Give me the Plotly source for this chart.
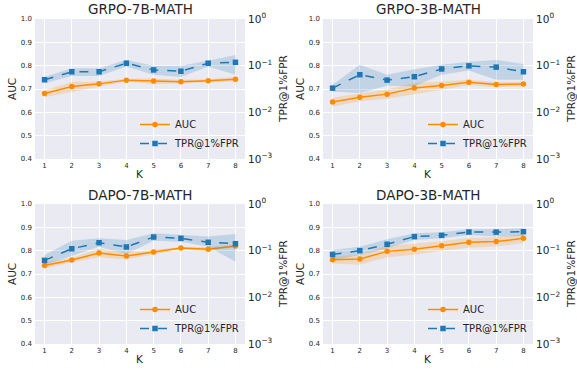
import plotly.graph_objects as go
from plotly.subplots import make_subplots

W, H = 577, 372

K = [1, 2, 3, 4, 5, 6, 7, 8]
titles = ["GRPO-7B-MATH", "GRPO-3B-MATH", "DAPO-7B-MATH", "DAPO-3B-MATH"]

# GRPO-7B-MATH
grpo7b_auc = [0.681, 0.711, 0.722, 0.738, 0.734, 0.731, 0.735, 0.742]
grpo7b_auc_lo = [0.665, 0.690, 0.710, 0.732, 0.720, 0.721, 0.728, 0.732]
grpo7b_auc_hi = [0.695, 0.730, 0.732, 0.744, 0.745, 0.740, 0.742, 0.752]
grpo7b_tpr = [0.050, 0.074, 0.074, 0.113, 0.081, 0.076, 0.113, 0.118]
grpo7b_tpr_lo = [0.042, 0.060, 0.060, 0.096, 0.064, 0.057, 0.096, 0.064]
grpo7b_tpr_hi = [0.057, 0.088, 0.088, 0.133, 0.099, 0.099, 0.128, 0.170]

# GRPO-3B-MATH
grpo3b_auc = [0.644, 0.665, 0.678, 0.704, 0.715, 0.729, 0.719, 0.721]
grpo3b_auc_lo = [0.624, 0.648, 0.658, 0.680, 0.697, 0.716, 0.708, 0.712]
grpo3b_auc_hi = [0.662, 0.682, 0.698, 0.726, 0.732, 0.740, 0.730, 0.730]
grpo3b_tpr = [0.033, 0.064, 0.049, 0.058, 0.085, 0.099, 0.093, 0.074]
grpo3b_tpr_lo = [0.028, 0.026, 0.037, 0.036, 0.064, 0.079, 0.050, 0.050]
grpo3b_tpr_hi = [0.039, 0.104, 0.064, 0.084, 0.104, 0.122, 0.133, 0.109]

# DAPO-7B-MATH
dapo7b_auc = [0.736, 0.760, 0.790, 0.777, 0.794, 0.811, 0.806, 0.820]
dapo7b_auc_lo = [0.722, 0.750, 0.772, 0.762, 0.784, 0.806, 0.796, 0.815]
dapo7b_auc_hi = [0.750, 0.770, 0.808, 0.792, 0.804, 0.816, 0.816, 0.825]
dapo7b_tpr = [0.062, 0.110, 0.148, 0.120, 0.196, 0.184, 0.151, 0.141]
dapo7b_tpr_lo = [0.049, 0.077, 0.122, 0.085, 0.164, 0.156, 0.122, 0.058]
dapo7b_tpr_hi = [0.081, 0.164, 0.184, 0.169, 0.235, 0.217, 0.200, 0.228]

# DAPO-3B-MATH
dapo3b_auc = [0.761, 0.764, 0.797, 0.806, 0.821, 0.836, 0.839, 0.853]
dapo3b_auc_lo = [0.745, 0.740, 0.772, 0.782, 0.800, 0.812, 0.818, 0.833]
dapo3b_auc_hi = [0.775, 0.782, 0.820, 0.830, 0.840, 0.855, 0.858, 0.870]
dapo3b_tpr = [0.083, 0.100, 0.137, 0.200, 0.213, 0.251, 0.250, 0.255]
dapo3b_tpr_lo = [0.063, 0.081, 0.112, 0.169, 0.184, 0.217, 0.200, 0.206]
dapo3b_tpr_hi = [0.103, 0.122, 0.175, 0.235, 0.247, 0.286, 0.286, 0.301]

auc_ticks = [0.4, 0.5, 0.6, 0.7, 0.8, 0.9, 1.0]
tpr_ticks = [0.001, 0.01, 0.1, 1]
tpr_ticktext = ["10<sup>\u22123</sup>", "10<sup>\u22122</sup>", "10<sup>\u22121</sup>", "10<sup>0</sup>"]

panels = [
    (grpo7b_auc, grpo7b_auc_lo, grpo7b_auc_hi, grpo7b_tpr, grpo7b_tpr_lo, grpo7b_tpr_hi),
    (grpo3b_auc, grpo3b_auc_lo, grpo3b_auc_hi, grpo3b_tpr, grpo3b_tpr_lo, grpo3b_tpr_hi),
    (dapo7b_auc, dapo7b_auc_lo, dapo7b_auc_hi, dapo7b_tpr, dapo7b_tpr_lo, dapo7b_tpr_hi),
    (dapo3b_auc, dapo3b_auc_lo, dapo3b_auc_hi, dapo3b_tpr, dapo3b_tpr_lo, dapo3b_tpr_hi),
]

ORANGE = "#ff8c00"
BLUE = "#1f77b4"
ORANGE_F = "rgba(255,140,0,0.2)"
BLUE_F = "rgba(31,119,180,0.2)"
FONT = "DejaVu Sans"
TXT = "#262626"

plot_x = [(35, 245), (323, 533)]
plot_y = [(19, 159), (204, 344)]

fig = make_subplots(rows=2, cols=2,
                    specs=[[{"secondary_y": True}, {"secondary_y": True}],
                           [{"secondary_y": True}, {"secondary_y": True}]])

legend_names = ["legend", "legend2", "legend3", "legend4"]
annotations = []
layout_legends = {}

for i, (auc, alo, ahi, tpr, tlo, thi) in enumerate(panels):
    r, c = i // 2 + 1, i % 2 + 1
    lg = legend_names[i]
    x0, x1 = plot_x[c - 1]
    y0, y1 = plot_y[r - 1]
    # bands
    fig.add_trace(go.Scatter(x=K + K[::-1], y=ahi + alo[::-1], fill="toself",
                             fillcolor=ORANGE_F, line=dict(width=0), mode="lines",
                             hoverinfo="skip", showlegend=False, legend=lg),
                  row=r, col=c, secondary_y=False)
    fig.add_trace(go.Scatter(x=K, y=auc, mode="lines+markers", name="AUC",
                             line=dict(color=ORANGE, width=1.5),
                             marker=dict(symbol="circle", size=5.5, color=ORANGE),
                             legend=lg),
                  row=r, col=c, secondary_y=False)
    fig.add_trace(go.Scatter(x=K + K[::-1], y=thi + tlo[::-1], fill="toself",
                             fillcolor=BLUE_F, line=dict(width=0), mode="lines",
                             hoverinfo="skip", showlegend=False, legend=lg),
                  row=r, col=c, secondary_y=True)
    fig.add_trace(go.Scatter(x=K, y=tpr, mode="lines+markers", name="TPR@1%FPR",
                             line=dict(color=BLUE, width=1.5, dash="dash"),
                             marker=dict(symbol="square", size=5.5, color=BLUE),
                             legend=lg),
                  row=r, col=c, secondary_y=True)

    ydom = [1 - y1 / H, 1 - y0 / H]
    fig.update_xaxes(domain=[x0 / W, x1 / W], range=[0.65, 8.35], tickvals=K,
                     showgrid=True, gridcolor="white", gridwidth=1, zeroline=False,
                     showline=False, ticks="", tickfont=dict(size=7, color=TXT, family=FONT),
                     ticklabelstandoff=1, automargin=False, row=r, col=c)
    fig.update_yaxes(domain=ydom, range=[0.4, 1.0], tickvals=auc_ticks,
                     tickformat=".1f", showgrid=True, gridcolor="white", gridwidth=1,
                     zeroline=False, showline=False, ticks="", automargin=False,
                     tickfont=dict(size=7, color=TXT, family=FONT), ticklabelstandoff=2,
                     row=r, col=c, secondary_y=False)
    fig.update_yaxes(domain=ydom, type="log", range=[-3, 0], tickvals=tpr_ticks,
                     ticktext=tpr_ticktext, automargin=False,
                     showgrid=False, zeroline=False, showline=False, ticks="",
                     tickfont=dict(size=10.5, color=TXT, family=FONT), ticklabelstandoff=2,
                     row=r, col=c, secondary_y=True)

    cx = (x0 + x1) / 2
    cy = (y0 + y1) / 2
    annotations += [
        dict(text=titles[i], x=cx / W, y=1 - (y0 - 9.5) / H, xref="paper", yref="paper",
             showarrow=False, font=dict(size=13.5, color=TXT, family=FONT),
             xanchor="center", yanchor="middle"),
        dict(text="K", x=cx / W, y=1 - (y1 + 15) / H, xref="paper", yref="paper",
             showarrow=False, font=dict(size=10.5, color=TXT, family=FONT),
             xanchor="center", yanchor="middle"),
        dict(text="AUC", x=(x0 - 23) / W, y=1 - cy / H, xref="paper", yref="paper",
             showarrow=False, textangle=-90, font=dict(size=10.5, color=TXT, family=FONT),
             xanchor="center", yanchor="middle"),
        dict(text="TPR@1%FPR", x=(x1 + 38) / W, y=1 - cy / H, xref="paper", yref="paper",
             showarrow=False, textangle=-90, font=dict(size=10.5, color=TXT, family=FONT),
             xanchor="center", yanchor="middle"),
    ]
    layout_legends[lg] = dict(x=(x0 + 100) / W, y=1 - (y0 + 91) / H, xanchor="left",
                              yanchor="top", bgcolor="rgba(0,0,0,0)", borderwidth=0,
                              font=dict(size=10, color=TXT, family=FONT),
                              tracegroupgap=0)

fig.update_layout(width=W, height=H, margin=dict(l=0, r=0, t=0, b=0, autoexpand=False),
                  plot_bgcolor="#EAEAF2", paper_bgcolor="white",
                  font=dict(family=FONT, color=TXT),
                  annotations=annotations, **layout_legends)

fig.write_html("out.html")
